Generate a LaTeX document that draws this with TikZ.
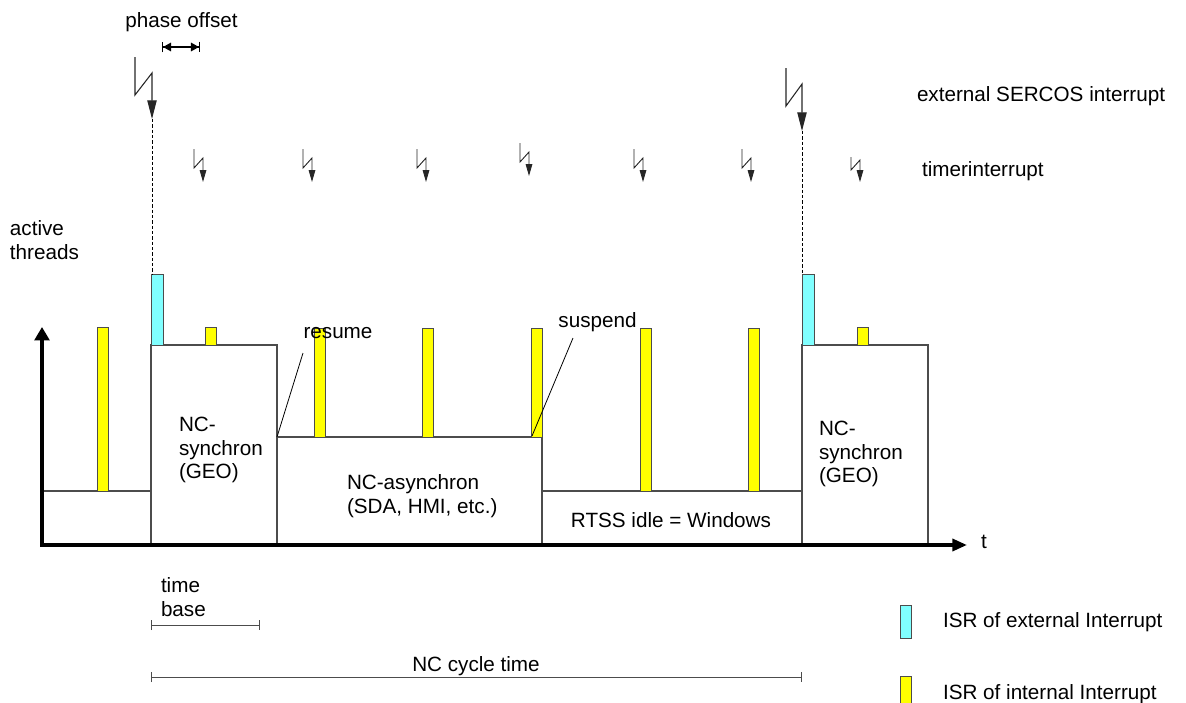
\documentclass[tikz,border=0pt]{standalone}
\usepackage{fontspec}
\setmainfont{Liberation Sans}
\usetikzlibrary{arrows.meta}
\definecolor{isrcyan}{RGB}{128,255,255}
\definecolor{isryellow}{RGB}{255,255,0}
\begin{document}
\begin{tikzpicture}[x=0.75pt,y=-0.75pt,
  lbl/.style={font=\fontsize{15.5}{17.6}\selectfont, inner sep=0pt, outer sep=0pt},
  boxline/.style={draw=black!70, line width=0.8pt},
  isrint/.style={draw=black!70, fill=isryellow, line width=0.7pt},
  isrext/.style={draw=black!70, fill=isrcyan, line width=0.7pt},
  guide/.style={draw=black, line width=0.7pt, dash pattern=on 2.5pt off 1.5pt},
  extbolt/.style={draw=black!85, line width=0.8pt, -{Triangle[length=14pt,width=7pt]}},
  timbolt/.style={draw=black!85, line width=0.7pt, -{Triangle[length=9pt,width=5pt]}},
  axisline/.style={draw=black, line width=2.6pt, {Triangle[length=10pt,width=11pt]}-{Triangle[length=11pt,width=9pt]}},
  pointer/.style={draw=black, line width=0.6pt},
  span/.style={draw=black!70, line width=0.7pt, {Bar[width=7.5pt]}-{Bar[width=7.5pt]}}
]
\useasboundingbox (0,0) rectangle (1186,703);

% thread boxes
\draw[boxline] (42,491) rectangle (151,545);
\draw[boxline] (151,345) rectangle (277,545);
\draw[boxline] (277,437) rectangle (542,545);
\draw[boxline] (542,491) rectangle (802,545);
\draw[boxline] (802,345) rectangle (928,545);

% ISR bars (internal)
\draw[isrint] (97,327) rectangle (108,491);
\draw[isrint] (205,327) rectangle (216,345);
\draw[isrint] (314,328) rectangle (325,437);
\draw[isrint] (422,328) rectangle (433,437);
\draw[isrint] (531,328) rectangle (542,437);
\draw[isrint] (640,328) rectangle (651,491);
\draw[isrint] (748,328) rectangle (759,491);
\draw[isrint] (857,327) rectangle (868,345);

% ISR bars (external)
\draw[isrext] (151,274) rectangle (163,345);
\draw[isrext] (802,274) rectangle (814,345);

% external interrupt bolts and guide lines
\coordinate (e1) at (152,119);
\coordinate (e1low) at (152,274);
\coordinate (e2) at (802,131);
\coordinate (e2low) at (802,274);
\draw[extbolt] (135,57) -- (135,95) -- (152,73) -- (e1);
\draw[extbolt] (786,68) -- (786,106) -- (802,84) -- (e2);
\draw[guide] (e1) -- (e1low);
\draw[guide] (e2) -- (e2low);

% timer interrupt bolts
\foreach \x/\t in {194/149, 303/149, 417/149, 520/143, 634/149, 742/149}{
  \draw[timbolt] (\x,\t) -- (\x,\t+19) -- (\x+9,\t+9) -- (\x+9,\t+33);
}
\draw[timbolt] (851,157) -- (851,170) -- (860,160) -- (860,182);

% phase offset
\coordinate (po1) at (162,47);
\coordinate (po2) at (200,47);
\draw[line width=0.8pt, {Bar[width=8pt]Triangle[length=6pt,width=6.5pt]}-{Triangle[length=6pt,width=6.5pt]Bar[width=8pt]}] (po1) -- (po2);
\node[lbl, anchor=base] (phase) at (181.5,27) {phase offset};

% axes
\coordinate (ytop) at (42,327);
\coordinate (orig) at (42,545);
\coordinate (xend) at (967,545);
\draw[axisline] (ytop) -- (orig) -- (xend);
\node[lbl] (t) at (984,542) {t};
\node[lbl, anchor=west, align=left] (active) at (10,240) {active\\threads};

% texts in boxes
\node[lbl, anchor=west, align=left] (sync1) at (179,450) {NC-\\synchron\\(GEO)};
\node[lbl, anchor=west, align=left] (sync2) at (819,454) {NC-\\synchron\\(GEO)};
\node[lbl, anchor=west, align=left] (async) at (347,496) {NC-asynchron\\(SDA, HMI, etc.)};
\node[lbl] (idle) at (671,520) {RTSS idle = Windows};

% resume / suspend
\node[lbl] (resume) at (338,333) {resume};
\node[lbl, anchor=base] (suspend) at (597.5,327) {suspend};
\coordinate (resA) at (277,437);
\coordinate (resB) at (303,353);
\coordinate (susA) at (532,436);
\coordinate (susB) at (573,338);
\draw[pointer] (resA) -- (resB);
\draw[pointer] (susA) -- (susB);

% interrupt labels
\node[lbl, anchor=base west] (extlbl) at (917,101) {external SERCOS interrupt};
\node[lbl, anchor=base west] (timlbl) at (922,176) {timerinterrupt};

% time spans
\coordinate (tb1) at (151,625);
\coordinate (tb2) at (260,625);
\coordinate (cy1) at (151,677);
\coordinate (cy2) at (802,677);
\draw[span] (tb1) -- (tb2);
\draw[span] (cy1) -- (cy2);
\node[lbl, anchor=west, align=left] (tbase) at (161,597) {time\\base};
\node[lbl, anchor=base] (cycle) at (476,671) {NC cycle time};

% legend
\draw[isrext] (900,605) rectangle (911,638);
\draw[isrint] (900,676) rectangle (911,708);
\node[lbl, anchor=base west] (legext) at (943,627) {ISR of external Interrupt};
\node[lbl, anchor=base west] (legint) at (943,699) {ISR of internal Interrupt};
\end{tikzpicture}
\end{document}
